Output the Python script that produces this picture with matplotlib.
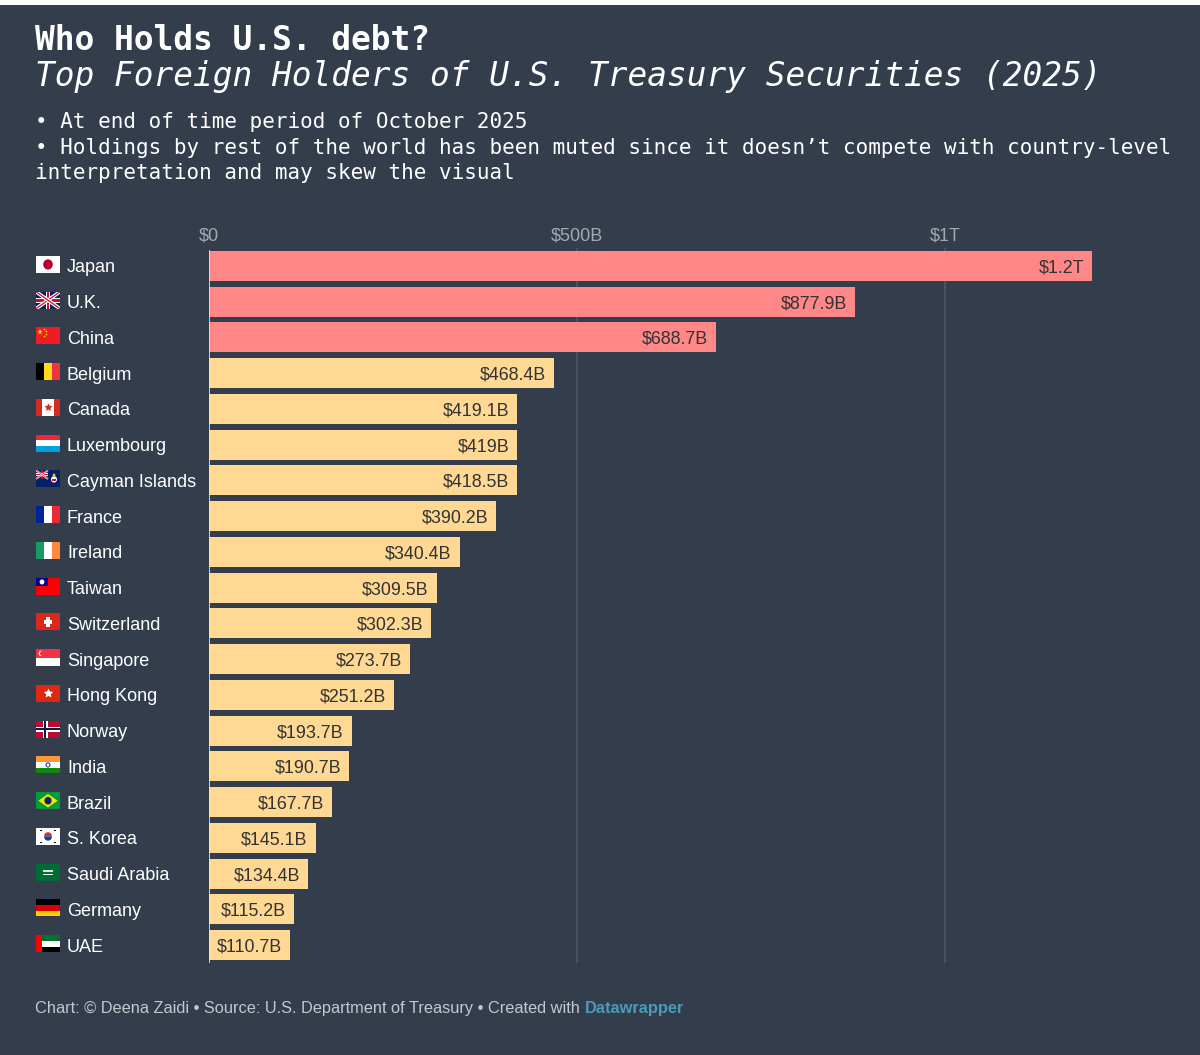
import matplotlib
matplotlib.use("Agg")
import matplotlib.pyplot as plt
from matplotlib.patches import Rectangle, Circle, Polygon, Wedge
from matplotlib import transforms

# ---------------- data ----------------
countries = ["Japan", "U.K.", "China", "Belgium", "Canada", "Luxembourg",
             "Cayman Islands", "France", "Ireland", "Taiwan", "Switzerland",
             "Singapore", "Hong Kong", "Norway", "India", "Brazil", "S. Korea",
             "Saudi Arabia", "Germany", "UAE"]
holdings_b = [1200.0, 877.9, 688.7, 468.4, 419.1, 419.0, 418.5, 390.2, 340.4,
              309.5, 302.3, 273.7, 251.2, 193.7, 190.7, 167.7, 145.1, 134.4,
              115.2, 110.7]
highlight = [True, True, True] + [False] * 17
tick_values = [0, 500, 1000]
tick_labels = ["$0", "$500B", "$1T"]

title = "Who Holds U.S. debt?"
subtitle = "Top Foreign Holders of U.S. Treasury Securities (2025)"
notes = ["\u2022 At end of time period of October 2025",
         "\u2022 Holdings by rest of the world has been muted since it doesn\u2019t compete with country-level",
         "interpretation and may skew the visual"]
footer = "Chart: \u00a9 Deena Zaidi \u2022 Source: U.S. Department of Treasury \u2022 Created with "
footer_brand = "Datawrapper"

# ---------------- style ----------------
BG = "#333d4c"
RED = "#ff8787"
YELLOW = "#ffd994"
GRID = "#4d5766"
W, H = 1200, 1055

def fy(px):
    return 1 - px / H

def fx(px):
    return px / W

fig = plt.figure(figsize=(W / 100, H / 100), dpi=100, facecolor=BG)
# thin white strip at the top as in the reference
fig.patches.append(Rectangle((0, fy(5)), 1, 5 / H, transform=fig.transFigure,
                             color="white", lw=0, zorder=10))

mono = "DejaVu Sans Mono"
sans = "Liberation Sans"
fig.text(fx(35), fy(50), title, family=mono, weight="bold", fontsize=23.7,
         color="white", va="baseline")
fig.text(fx(35), fy(86), subtitle, family=mono, style="italic", fontsize=23.55,
         color="white", va="baseline")
for k, (line, base) in enumerate(zip(notes, [128, 154, 179])):
    fig.text(fx(35), fy(base), line, family=mono, fontsize=15, color="white",
             va="baseline")

# ---------------- bars ----------------
n = len(countries)
ax_left, ax_right = 209, 1129
ax_top, ax_bottom = 248, 963
ax = fig.add_axes([fx(ax_left), fy(ax_bottom), (ax_right - ax_left) / W,
                   (ax_bottom - ax_top) / H])
ax.set_facecolor(BG)
ax.set_xlim(0, 1250)
ax.set_ylim(-0.5, n - 0.5)
ypos = [n - 1 - i for i in range(n)]
colors = [RED if h else YELLOW for h in highlight]

for v in tick_values[1:]:
    ax.axvline(v, color=GRID, lw=1.2, zorder=0)
ax.barh(ypos, holdings_b, height=0.84, color=colors, zorder=2)
ax.axvline(0, color="#e8e8e8", lw=1.2, zorder=3,
           ymin=0.0, ymax=1 - (0.5 - 0.42) / n)

def fmt(v):
    if v >= 1000:
        return f"${v / 1000:.1f}T"
    s = f"{v:.1f}"
    if s.endswith(".0"):
        s = s[:-2]
    return f"${s}B"

for y, v in zip(ypos, holdings_b):
    ax.annotate(fmt(v), xy=(v, y), xytext=(-8, 0), textcoords="offset pixels",
                ha="right", va="center_baseline", fontsize=12.9, family=sans,
                color="#333333", zorder=4)

ax.xaxis.tick_top()
ax.set_xticks(tick_values)
ax.set_xticklabels(tick_labels, family=sans, fontsize=13, color="#a3a9b2")
ax.tick_params(axis="x", length=0, pad=2.8)
ax.set_yticks([])
for s in ax.spines.values():
    s.set_visible(False)

# row labels
blend = transforms.blended_transform_factory(fig.transFigure, ax.transData)
for y, name in zip(ypos, countries):
    fig.text(fx(67), y, name, transform=blend, family=sans, fontsize=13,
             color="white", ha="left", va="center_baseline")

# ---------------- flags ----------------
def R(a, x, y, w, h, c):
    a.add_patch(Rectangle((x, y), w, h, color=c, lw=0))

def uk(a, x0=0, y0=0, sx=1.0, sy=1.0):
    R(a, x0, y0, 3 * sx, 2 * sy, "#012169")
    for (xa, ya, xb, yb) in [(0, 0, 3, 2), (0, 2, 3, 0)]:
        a.plot([x0 + xa * sx, x0 + xb * sx], [y0 + ya * sy, y0 + yb * sy],
               color="white", lw=2.6 * sy, solid_capstyle="butt")
        a.plot([x0 + xa * sx, x0 + xb * sx], [y0 + ya * sy, y0 + yb * sy],
               color="#c8102e", lw=0.9 * sy, solid_capstyle="butt")
    R(a, x0 + 1.2 * sx, y0, 0.6 * sx, 2 * sy, "white")
    R(a, x0, y0 + 0.7 * sy, 3 * sx, 0.6 * sy, "white")
    R(a, x0 + 1.35 * sx, y0, 0.3 * sx, 2 * sy, "#c8102e")
    R(a, x0, y0 + 0.82 * sy, 3 * sx, 0.36 * sy, "#c8102e")

def hstripes(a, cols):
    k = len(cols)
    for j, c in enumerate(cols):
        R(a, 0, 2 - (j + 1) * 2 / k, 3, 2 / k, c)

def vstripes(a, cols):
    k = len(cols)
    for j, c in enumerate(cols):
        R(a, j * 3 / k, 0, 3 / k, 2, c)

def f_japan(a):
    R(a, 0, 0, 3, 2, "white")
    a.add_patch(Circle((1.5, 1), 0.6, color="#bc002d", lw=0))

def f_uk(a):
    uk(a)

def f_china(a):
    R(a, 0, 0, 3, 2, "#ee1c25")
    a.plot([0.5], [1.45], marker="*", color="#ffde00", ms=5, mew=0)
    for (x, y) in [(1.0, 1.8), (1.2, 1.55), (1.2, 1.25), (1.0, 1.05)]:
        a.plot([x], [y], marker="*", color="#ffde00", ms=2, mew=0)

def f_belgium(a):
    vstripes(a, ["#000000", "#fdda24", "#ef3340"])

def f_canada(a):
    R(a, 0, 0, 3, 2, "white")
    R(a, 0, 0, 0.75, 2, "#d52b1e")
    R(a, 2.25, 0, 0.75, 2, "#d52b1e")
    a.plot([1.5], [1.0], marker=(5, 1, 0), color="#d52b1e", ms=6, mew=0)

def f_lux(a):
    hstripes(a, ["#ed2939", "white", "#00a1de"])

def f_cayman(a):
    R(a, 0, 0, 3, 2, "#012169")
    uk(a, 0, 1, 0.5, 0.5)
    a.add_patch(Circle((2.25, 0.95), 0.38, color="#ffffff", lw=0))
    R(a, 2.0, 0.75, 0.5, 0.3, "#c8102e")
    a.add_patch(Circle((2.25, 1.45), 0.18, color="#f5c400", lw=0))

def f_france(a):
    vstripes(a, ["#002395", "white", "#ed2939"])

def f_ireland(a):
    vstripes(a, ["#169b62", "white", "#ff883e"])

def f_taiwan(a):
    R(a, 0, 0, 3, 2, "#fe0000")
    R(a, 0, 1, 1.5, 1, "#000095")
    a.add_patch(Circle((0.75, 1.5), 0.3, color="white", lw=0))

def f_swiss(a):
    R(a, 0, 0, 3, 2, "#da291c")
    R(a, 1.3, 0.45, 0.4, 1.1, "white")
    R(a, 0.95, 0.8, 1.1, 0.4, "white")

def f_singapore(a):
    hstripes(a, ["#ef3340", "white"])
    a.add_patch(Circle((0.65, 1.5), 0.32, color="white", lw=0))
    a.add_patch(Circle((0.8, 1.5), 0.3, color="#ef3340", lw=0))

def f_hk(a):
    R(a, 0, 0, 3, 2, "#de2910")
    a.plot([1.5], [1.0], marker=(5, 1, 0), color="white", ms=7, mew=0)

def f_norway(a):
    R(a, 0, 0, 3, 2, "#ba0c2f")
    R(a, 0.85, 0, 0.6, 2, "white")
    R(a, 0, 0.7, 3, 0.6, "white")
    R(a, 1.0, 0, 0.3, 2, "#00205b")
    R(a, 0, 0.85, 3, 0.3, "#00205b")

def f_india(a):
    hstripes(a, ["#ff9933", "white", "#138808"])
    a.add_patch(Circle((1.5, 1), 0.25, fill=False, ec="#000080", lw=0.6))

def f_brazil(a):
    R(a, 0, 0, 3, 2, "#009c3b")
    a.add_patch(Polygon([(0.3, 1), (1.5, 1.8), (2.7, 1), (1.5, 0.2)],
                        closed=True, color="#ffdf00", lw=0))
    a.add_patch(Circle((1.5, 1), 0.45, color="#002776", lw=0))

def f_korea(a):
    R(a, 0, 0, 3, 2, "white")
    a.add_patch(Wedge((1.5, 1), 0.5, 0, 180, color="#cd2e3a", lw=0))
    a.add_patch(Wedge((1.5, 1), 0.5, 180, 360, color="#0047a0", lw=0))
    for (x, y) in [(0.45, 1.6), (2.3, 1.6), (0.45, 0.2), (2.3, 0.2)]:
        R(a, x, y, 0.25, 0.2, "black")

def f_saudi(a):
    R(a, 0, 0, 3, 2, "#006c35")
    R(a, 0.9, 1.0, 1.2, 0.25, "#d8e8dc")
    R(a, 0.9, 0.7, 1.2, 0.08, "white")

def f_germany(a):
    hstripes(a, ["#000000", "#dd0000", "#ffce00"])

def f_uae(a):
    for j, c in enumerate(["#00732f", "white", "#000000"]):
        R(a, 0.75, 2 - (j + 1) * 2 / 3, 2.25, 2 / 3, c)
    R(a, 0, 0, 0.75, 2, "#ff0000")

flag_funcs = {"Japan": f_japan, "U.K.": f_uk, "China": f_china,
              "Belgium": f_belgium, "Canada": f_canada, "Luxembourg": f_lux,
              "Cayman Islands": f_cayman, "France": f_france,
              "Ireland": f_ireland, "Taiwan": f_taiwan,
              "Switzerland": f_swiss, "Singapore": f_singapore,
              "Hong Kong": f_hk, "Norway": f_norway, "India": f_india,
              "Brazil": f_brazil, "S. Korea": f_korea,
              "Saudi Arabia": f_saudi, "Germany": f_germany, "UAE": f_uae}

px_per_unit = (ax_bottom - ax_top) / n
fh = 17 / px_per_unit
for y, name in zip(ypos, countries):
    fa = ax.inset_axes([fx(36), y - fh / 2 + 0.04, fx(24), fh], transform=blend)
    fa.set_xlim(0, 3)
    fa.set_ylim(0, 2)
    fa.set_axis_off()
    flag_funcs[name](fa)

# ---------------- footer ----------------
t1 = fig.text(fx(35), fy(1013), footer, family=sans, fontsize=11.8,
              color="#c3c8cf", va="baseline")
fig.canvas.draw()
bb = t1.get_window_extent()
fig.text(bb.x1 / W, fy(1013), footer_brand, family=sans, fontsize=11.8,
         weight="bold", color="#4a9bb8", va="baseline")

fig.savefig("out.png", dpi=100, facecolor=BG)
